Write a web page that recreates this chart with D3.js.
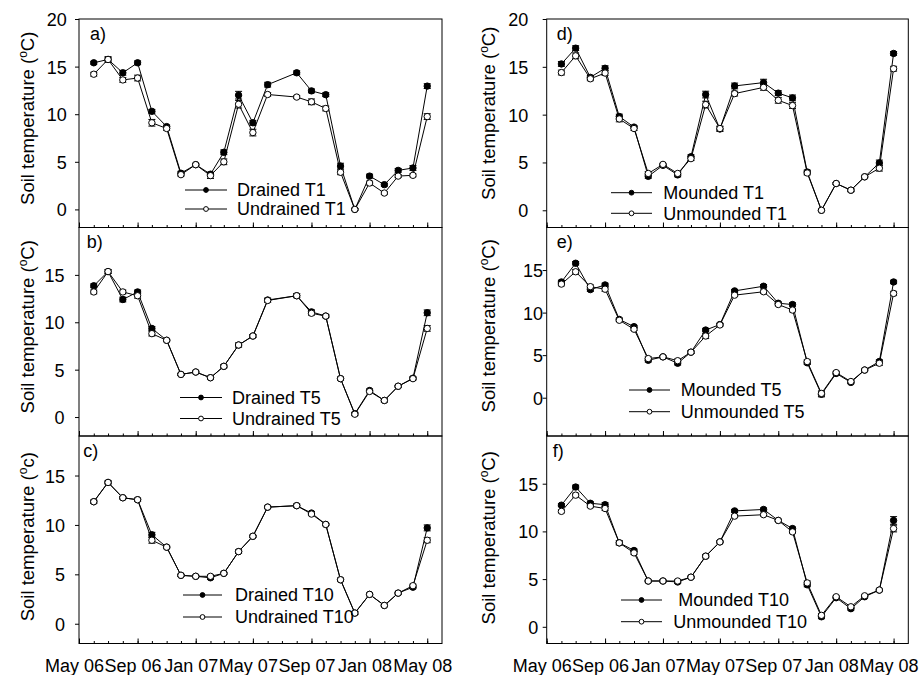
<!DOCTYPE html>
<html>
<head>
<meta charset="utf-8">
<script src="https://cdn.jsdelivr.net/npm/d3@7"></script>
<style>
  html, body { margin: 0; padding: 0; background: #fff; }
  svg { display: block; font-family: "Liberation Sans", Arial, sans-serif; }
</style>
</head>
<body>
<svg id="chart" width="921" height="675"></svg>
<script>
// Sampling months (monthly means; May 06 and Jul 07 not sampled)
const months = ["2006-06","2006-07","2006-08","2006-09","2006-10","2006-11","2006-12",
  "2007-01","2007-02","2007-03","2007-04","2007-05","2007-06","2007-08","2007-09",
  "2007-10","2007-11","2007-12","2008-01","2008-02","2008-03","2008-04","2008-05"];

const xTickLabels = ["May 06","Sep 06","Jan 07","May 07","Sep 07","Jan 08","May 08"];

// Soil temperature (°C) at 1, 5 and 10 cm depth
const drainedT1    = [15.4,15.75,14.35,15.4,10.3,8.7,3.8,4.7,3.7,6.0,12.0,9.1,13.1,14.35,12.45,12.05,4.55,0.0,3.5,2.6,4.1,4.35,12.95];
const undrainedT1  = [14.2,15.75,13.6,13.8,9.1,8.5,3.65,4.7,3.55,5.0,11.05,8.07,12.07,11.8,11.3,10.6,3.9,0.0,2.77,1.72,3.5,3.58,9.75];
const drainedT5    = [13.85,15.35,12.4,13.2,9.35,8.1,4.5,4.75,4.15,5.35,7.6,8.55,12.35,12.8,11.1,10.65,4.05,0.35,2.8,1.75,3.25,4.1,11.0];
const undrainedT5  = [13.2,15.35,13.2,12.8,8.8,8.1,4.5,4.75,4.15,5.35,7.6,8.55,12.3,12.8,10.95,10.65,4.05,0.3,2.7,1.75,3.25,4.05,9.35];
const drainedT10   = [12.35,14.3,12.75,12.55,9.0,7.75,4.9,4.8,4.65,5.1,7.3,8.85,11.8,11.95,11.2,10.05,4.45,1.08,2.97,1.85,3.1,3.7,9.7];
const undrainedT10 = [12.35,14.3,12.75,12.55,8.45,7.75,4.9,4.8,4.8,5.1,7.3,8.85,11.8,11.95,11.1,10.05,4.45,1.08,2.97,1.85,3.1,3.85,8.45];

const moundedT1    = [15.3,16.95,13.9,14.85,9.8,8.7,3.55,4.7,3.7,5.6,12.1,8.5,13.0,13.35,12.25,11.75,4.0,0.0,2.8,2.1,3.5,4.95,16.4];
const unmoundedT1  = [14.4,16.15,13.75,14.35,9.55,8.55,3.85,4.8,3.85,5.4,11.05,8.55,12.2,12.85,11.5,10.95,3.9,0.0,2.8,2.1,3.5,4.4,14.8];
const moundedT5    = [13.6,15.8,12.7,13.25,9.2,8.35,4.4,4.8,4.05,5.35,7.95,8.6,12.55,13.1,11.1,10.95,4.1,0.4,2.85,1.8,3.25,4.25,13.6];
const unmoundedT5  = [13.35,14.8,13.05,12.75,9.1,8.05,4.6,4.8,4.35,5.35,7.25,8.55,12.05,12.45,10.95,10.3,4.25,0.5,2.95,1.9,3.25,4.05,12.25];
const moundedT10   = [12.75,14.65,12.95,12.8,8.8,8.0,4.8,4.8,4.7,5.2,7.4,8.9,12.15,12.3,11.15,10.3,4.4,1.05,3.05,1.9,3.15,3.85,11.15];
const unmoundedT10 = [12.1,13.8,12.65,12.4,8.8,7.75,4.8,4.8,4.8,5.2,7.4,8.9,11.6,11.75,11.15,9.95,4.6,1.2,3.15,2.1,3.25,3.85,10.3];

// Standard errors
const seDrainedT1    = [0.15,0.2,0.25,0.2,0.2,0.15,0.2,0.1,0.2,0.25,0.4,0.25,0.25,0.2,0.2,0.2,0.3,0.1,0.2,0.15,0.2,0.25,0.25];
const seUndrainedT1  = [0.2,0.3,0.25,0.3,0.35,0.2,0.15,0.1,0.3,0.3,0.4,0.35,0.2,0.15,0.3,0.25,0.25,0.1,0.2,0.15,0.15,0.15,0.3];
const seDrainedT5    = [0.2,0.2,0.25,0.2,0.2,0.1,0.1,0.1,0.15,0.15,0.2,0.15,0.2,0.2,0.2,0.15,0.15,0.15,0.15,0.15,0.1,0.15,0.3];
const seUndrainedT5  = [0.2,0.2,0.2,0.25,0.25,0.1,0.1,0.1,0.15,0.15,0.2,0.15,0.2,0.2,0.2,0.15,0.15,0.15,0.15,0.15,0.1,0.15,0.3];
const seDrainedT10   = [0.15,0.15,0.1,0.15,0.25,0.1,0.1,0.1,0.15,0.1,0.15,0.1,0.1,0.15,0.15,0.1,0.15,0.15,0.1,0.1,0.1,0.15,0.3];
const seUndrainedT10 = [0.15,0.15,0.1,0.15,0.3,0.1,0.1,0.1,0.15,0.1,0.15,0.1,0.1,0.15,0.15,0.1,0.15,0.15,0.1,0.1,0.1,0.15,0.25];
const seMoundedT1    = [0.25,0.25,0.2,0.25,0.25,0.15,0.2,0.1,0.2,0.2,0.35,0.25,0.3,0.35,0.25,0.3,0.2,0.1,0.1,0.15,0.1,0.3,0.2];
const seUnmoundedT1  = [0.25,0.3,0.2,0.25,0.3,0.2,0.2,0.1,0.2,0.2,0.35,0.25,0.25,0.3,0.3,0.3,0.2,0.1,0.1,0.15,0.1,0.3,0.25];
const seMoundedT5    = [0.2,0.2,0.2,0.2,0.15,0.15,0.2,0.1,0.2,0.15,0.2,0.15,0.15,0.2,0.15,0.2,0.2,0.3,0.15,0.15,0.1,0.2,0.2];
const seUnmoundedT5  = [0.2,0.25,0.2,0.25,0.15,0.15,0.2,0.1,0.2,0.15,0.3,0.15,0.15,0.2,0.15,0.2,0.2,0.3,0.15,0.15,0.1,0.25,0.25];
const seMoundedT10   = [0.15,0.2,0.15,0.2,0.2,0.15,0.1,0.1,0.15,0.1,0.15,0.1,0.15,0.15,0.1,0.15,0.2,0.2,0.1,0.15,0.1,0.1,0.4];
const seUnmoundedT10 = [0.15,0.2,0.15,0.2,0.2,0.15,0.1,0.1,0.15,0.1,0.15,0.1,0.15,0.15,0.1,0.15,0.2,0.2,0.1,0.15,0.1,0.1,0.35];

const parseMonth = d3.timeParse("%Y-%m");
const dates = months.map(parseMonth);
const xDomain = [parseMonth("2006-05"), parseMonth("2008-06")];
const majorTicks = d3.timeMonth.every(4).range(parseMonth("2006-05"), parseMonth("2008-06"));
const minorTicks = d3.timeMonth.range(parseMonth("2006-05"), parseMonth("2008-06"));

const font = "Liberation Sans, Arial, sans-serif";
const svg = d3.select("#chart");

const columns = [
  { x0: 79, x1: 442, titleX: 33.5 },
  { x0: 546.7, x1: 908.3, titleX: 495 }
];
const rows = [19, 227.5, 436, 643.5];

const panels = [
  { col: 0, row: 0, tag: "a)", tagDx: 11, yDomain: [-1.9, 20], yTicks: [0,5,10,15,20], labelEnd: 66.7, unit: "C", titleShift: -5,
    series: [["Drained T1", drainedT1, seDrainedT1, true], ["Undrained T1", undrainedT1, seUndrainedT1, false]],
    legend: { x0: 185, x1: 227, y: 190, gap: 19, tx: 237 } },
  { col: 0, row: 1, tag: "b)", tagDx: 7.7, yDomain: [-2, 20], yTicks: [0,5,10,15], labelEnd: 64.5, unit: "C", titleShift: -5,
    series: [["Drained T5", drainedT5, seDrainedT5, true], ["Undrained T5", undrainedT5, seUndrainedT5, false]],
    legend: { x0: 180, x1: 222, y: 397.5, gap: 21, tx: 232 } },
  { col: 0, row: 2, tag: "c)", tagDx: 4.3, yDomain: [-2, 19], yTicks: [0,5,10,15], labelEnd: 65, unit: "c", titleShift: -3,
    series: [["Drained T10", drainedT10, seDrainedT10, true], ["Undrained T10", undrainedT10, seUndrainedT10, false]],
    legend: { x0: 183, x1: 222, y: 595, gap: 22, tx: 235 } },
  { col: 1, row: 0, tag: "d)", tagDx: 10, yDomain: [-1.8, 20], yTicks: [0,5,10,15,20], labelEnd: 528.3, unit: "C", titleShift: -10,
    series: [["Mounded T1", moundedT1, seMoundedT1, true], ["Unmounded T1", unmoundedT1, seUnmoundedT1, false]],
    legend: { x0: 611, x1: 652, y: 192.7, gap: 20.6, tx: 663.3 } },
  { col: 1, row: 1, tag: "e)", tagDx: 10, yDomain: [-4.5, 20], yTicks: [0,5,10,15], labelEnd: 543, unit: "C", titleShift: -6,
    series: [["Mounded T5", moundedT5, seMoundedT5, true], ["Unmounded T5", unmoundedT5, seUnmoundedT5, false]],
    legend: { x0: 629, x1: 670, y: 390, gap: 21.7, tx: 680.7 } },
  { col: 1, row: 2, tag: "f)", tagDx: 6, yDomain: [-1.75, 20], yTicks: [0,5,10,15], labelEnd: 538.3, unit: "C", titleShift: -2,
    series: [[" Mounded T10", moundedT10, seMoundedT10, true], ["Unmounded T10", unmoundedT10, seUnmoundedT10, false]],
    legend: { x0: 621, x1: 662, y: 600, gap: 21.7, tx: 673.3 } }
];

panels.forEach(p => {
  const c = columns[p.col];
  const top = rows[p.row], bottom = rows[p.row + 1];
  const x = d3.scaleTime().domain(xDomain).range([c.x0, c.x1]);
  const y = d3.scaleLinear().domain(p.yDomain).range([bottom, top]);
  const g = svg.append("g");

  // frame
  g.append("rect")
    .attr("x", c.x0).attr("y", top)
    .attr("width", c.x1 - c.x0).attr("height", bottom - top)
    .attr("fill", "none").attr("stroke", "#000").attr("stroke-width", 1);

  // x ticks (inward), minor monthly and major every four months
  const xMinor = g.append("g").attr("transform", `translate(0,${bottom})`)
    .call(d3.axisBottom(x).tickValues(minorTicks).tickSize(-2.5).tickFormat(""));
  const xMajor = g.append("g").attr("transform", `translate(0,${bottom})`)
    .call(d3.axisBottom(x).tickValues(majorTicks).tickSize(-5).tickFormat(""));
  [xMinor, xMajor].forEach(a => { a.select(".domain").remove(); a.selectAll("line").attr("stroke", "#000"); });

  if (p.row === 2) {
    g.selectAll("text.xlab").data(majorTicks).enter().append("text")
      .attr("class", "xlab")
      .attr("x", (d) => x(d) - 4.5)
      .attr("y", bottom + 28.5)
      .attr("text-anchor", "middle")
      .attr("font-family", font).attr("font-size", 18)
      .text((d, i) => xTickLabels[i]);
  }

  // y axis (outward ticks)
  const yAx = g.append("g").attr("transform", `translate(${c.x0},0)`)
    .call(d3.axisLeft(y).tickValues(p.yTicks).tickSize(4).tickPadding(c.x0 - 4 - p.labelEnd));
  yAx.select(".domain").remove();
  yAx.selectAll("line").attr("stroke", "#000");
  yAx.selectAll("text").attr("font-family", font).attr("font-size", 18).attr("fill", "#000").attr("dy", "0.36em");

  // y title
  const cy = (top + bottom) / 2 + p.titleShift;
  const t = g.append("text")
    .attr("transform", `translate(${c.titleX},${cy}) rotate(-90)`)
    .attr("text-anchor", "middle")
    .attr("font-family", font).attr("font-size", 18.5);
  t.append("tspan").text("Soil temperature (");
  t.append("tspan").attr("font-size", 12).attr("dy", -7).text("o");
  t.append("tspan").attr("dy", 7).text(p.unit + ")");

  // panel tag
  g.append("text").attr("x", c.x0 + p.tagDx).attr("y", top + 20.6)
    .attr("font-family", font).attr("font-size", 18).text(p.tag);

  // series
  const line = d3.line().x((d, i) => x(dates[i])).y(d => y(d));
  p.series.forEach(([name, vals, se, filled]) => {
    const s = g.append("g");
    s.append("path").attr("d", line(vals))
      .attr("fill", "none").attr("stroke", "#000").attr("stroke-width", 1);
    const eb = s.selectAll("g.eb").data(vals).enter().append("g");
    eb.append("line")
      .attr("x1", (d, i) => x(dates[i])).attr("x2", (d, i) => x(dates[i]))
      .attr("y1", (d, i) => y(d - se[i])).attr("y2", (d, i) => y(d + se[i]))
      .attr("stroke", "#000");
    [-1, 1].forEach(sg => {
      eb.append("line")
        .attr("x1", (d, i) => x(dates[i]) - 3.5).attr("x2", (d, i) => x(dates[i]) + 3.5)
        .attr("y1", (d, i) => y(d + sg * se[i])).attr("y2", (d, i) => y(d + sg * se[i]))
        .attr("stroke", "#000");
    });
    s.selectAll("circle").data(vals).enter().append("circle")
      .attr("cx", (d, i) => x(dates[i])).attr("cy", d => y(d))
      .attr("r", 3.2)
      .attr("fill", filled ? "#000" : "#fff")
      .attr("stroke", "#000").attr("stroke-width", 1);
  });

  // legend
  const L = p.legend;
  p.series.forEach(([name, vals, se, filled], k) => {
    const ly = L.y + k * L.gap;
    g.append("line").attr("x1", L.x0).attr("x2", L.x1).attr("y1", ly).attr("y2", ly)
      .attr("stroke", "#000").attr("stroke-width", 1);
    g.append("circle").attr("cx", (L.x0 + L.x1) / 2).attr("cy", ly).attr("r", 2.4)
      .attr("fill", filled ? "#000" : "#fff").attr("stroke", "#000");
    g.append("text").attr("x", L.tx).attr("y", ly).attr("dy", "0.36em")
      .attr("font-family", font).attr("font-size", 18).attr("xml:space", "preserve")
      .style("white-space", "pre")
      .text(name);
  });
});
</script>
</body>
</html>
